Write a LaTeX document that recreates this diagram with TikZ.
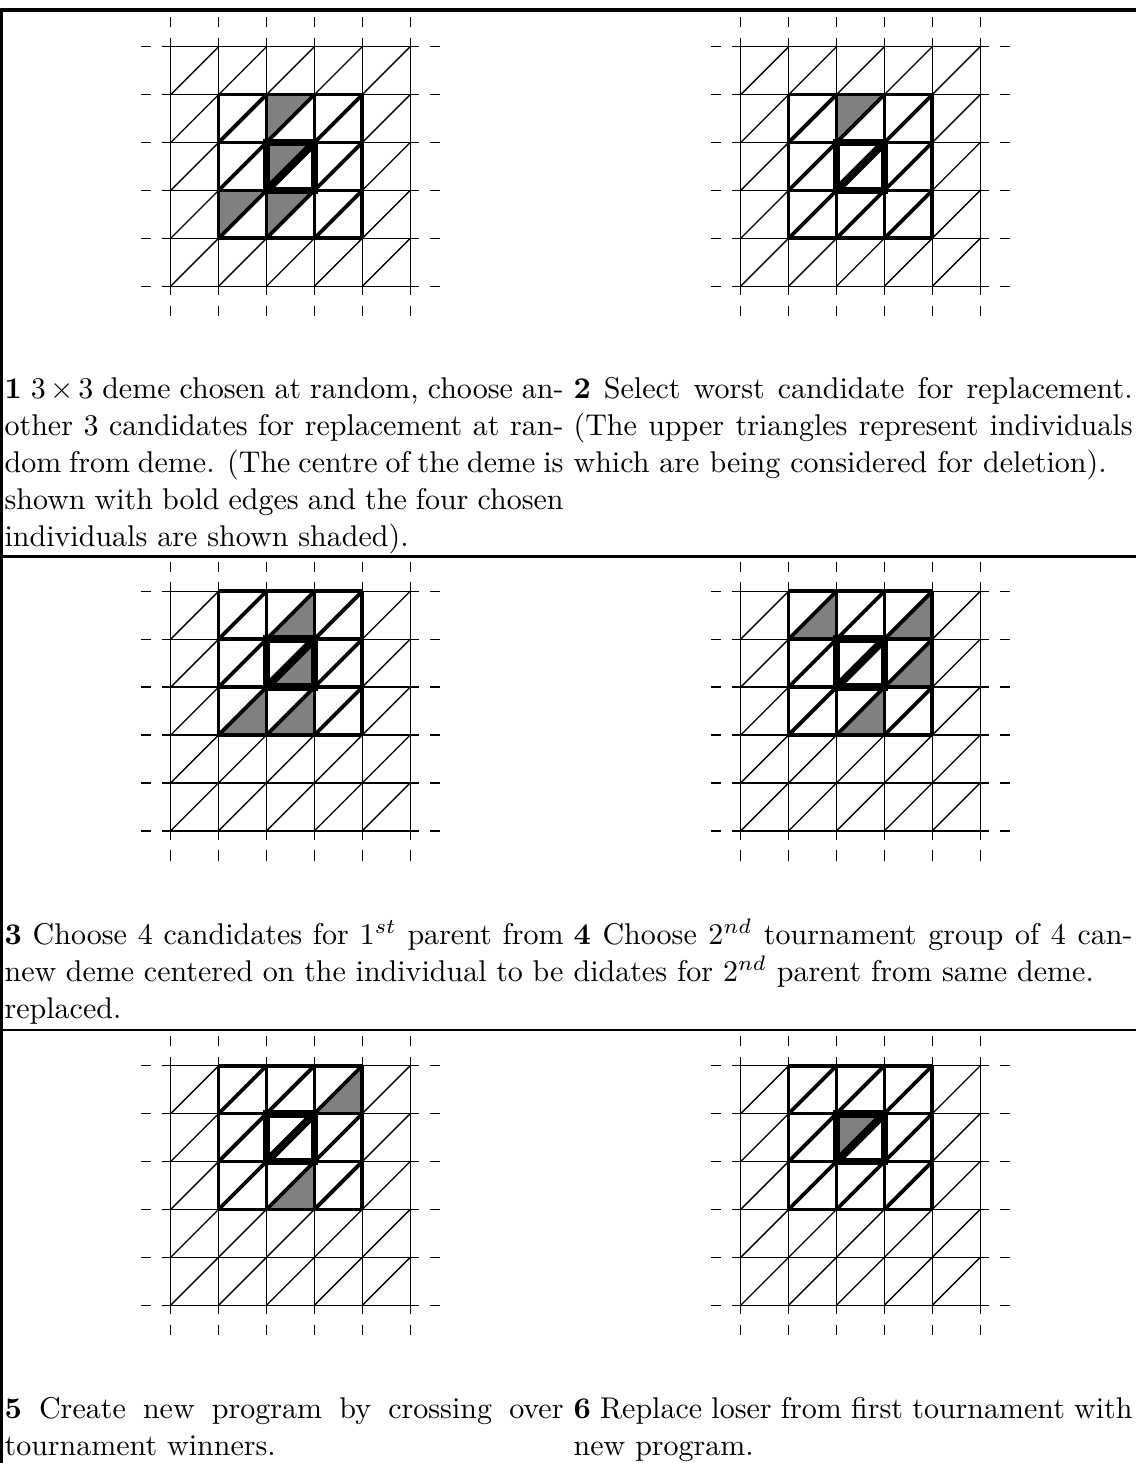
\documentclass[tikz,border=0pt]{standalone}
\usepackage{tikz}

% shaded individuals: upper / lower triangle of cell (col,row)
\newcommand\uptri[2]{\fill[cand] (#1,#2) -- ++(1,0) -- ++(-1,1) -- cycle;}
\newcommand\lowtri[2]{\fill[cand] (#1,#2+1) -- ++(1,-1) -- ++(0,1) -- cycle;}
% 5x5 lattice with a 3x3 deme whose top row is #1
\newcommand\demegrid[1]{%
  \foreach \k in {0,...,5} {
    \draw[cellline] (\k,-0.19) -- (\k,5.19);
    \draw[cellline] (-0.19,\k) -- (5.19,\k);
    \draw[cellline] (\k,-0.62) -- (\k,-0.41);
    \draw[cellline] (\k,5.41) -- (\k,5.62);
    \draw[cellline] (-0.62,\k) -- (-0.41,\k);
    \draw[cellline] (5.41,\k) -- (5.62,\k);
  }
  \foreach \i in {0,...,4}
    \foreach \j in {0,...,4}
      \draw[cellline] (\i,\j+1) -- (\i+1,\j);
  % the deme
  \foreach \k in {0,...,3} {
    \draw[demeline] (\k+1,#1) -- (\k+1,#1+3);
    \draw[demeline] (1,#1+\k) -- (4,#1+\k);
  }
  \foreach \i in {1,2,3}
    \foreach \j in {0,1,2}
      \draw[demeline] (\i,#1+\j+1) -- (\i+1,#1+\j);
  % its centre
  \draw[centreline] (2,#1+1) rectangle (3,#1+2);
  \draw[centreline] (2,#1+2) -- (3,#1+1);
}

\begin{document}
\begin{tikzpicture}[x=0.3333pt, y=-0.3333pt,
  cellline/.style={line width=0.45pt},
  demeline/.style={line width=1.25pt},
  centreline/.style={line width=2.6pt},
  cand/.style={fill=gray},
  frameline/.style={line width=0.8pt},
  lattice/.style={x=15.967pt, y=-15.967pt},
  caption/.style={anchor=north west, inner sep=0pt, text width=186.3pt,
                  align=justify, font=\fontsize{10}{12.33}\selectfont},
]
\useasboundingbox (0,0) rectangle (1136,1463);
% frame
\draw[line width=1.2pt] (0,10) -- (1136,10);
\draw[line width=1pt] (1.5,10) -- (1.5,1463);
\draw[frameline] (0,556.3) -- (1136,556.3);
\draw[frameline] (0,1029.7) -- (1136,1029.7);

% panel 1
\begin{scope}[shift={(170.7,46.7)}, lattice]
  \uptri{2}{1} \uptri{2}{2} \uptri{1}{3} \uptri{2}{3}
  \demegrid{1}
\end{scope}
% panel 2
\begin{scope}[shift={(740.7,46.7)}, lattice]
  \uptri{2}{1}
  \demegrid{1}
\end{scope}
% panel 3
\begin{scope}[shift={(170.7,591.3)}, lattice]
  \lowtri{2}{0} \lowtri{2}{1} \lowtri{1}{2} \lowtri{2}{2}
  \demegrid{0}
\end{scope}
% panel 4
\begin{scope}[shift={(740.7,591.3)}, lattice]
  \lowtri{1}{0} \lowtri{3}{0} \lowtri{3}{1} \lowtri{2}{2}
  \demegrid{0}
\end{scope}
% panel 5
\begin{scope}[shift={(170.7,1065.7)}, lattice]
  \lowtri{3}{0} \lowtri{2}{2}
  \demegrid{0}
\end{scope}
% panel 6
\begin{scope}[shift={(740.7,1065.7)}, lattice]
  \uptri{2}{1}
  \demegrid{0}
\end{scope}

% captions
\node[caption] (cap1) at (4,372.4) {\strut\textbf{1} $3\times3$ deme chosen at random, choose another 3 candidates for replacement at random from deme. (The centre of the deme is shown with bold edges and the four chosen individuals are shown shaded).};
\node[caption] (cap2) at (573,372.4) {\strut\textbf{2} Select worst candidate for replacement. (The upper triangles represent individuals which are being considered for deletion).};
\node[caption] (cap3) at (4,918.1) {\strut\textbf{3} Choose 4 candidates for 1$^{st}$ parent from new deme centered on the individual to be replaced.};
\node[caption] (cap4) at (573,918.1) {\strut\textbf{4} Choose 2$^{nd}$ tournament group of 4 candidates for 2$^{nd}$ parent from same deme.};
\node[caption] (cap5) at (4,1391.6) {\strut\textbf{5} Create new program by crossing over tournament winners.};
\node[caption] (cap6) at (573,1391.6) {\strut\textbf{6} Replace loser from first tournament with new program.};
\end{tikzpicture}
\end{document}
